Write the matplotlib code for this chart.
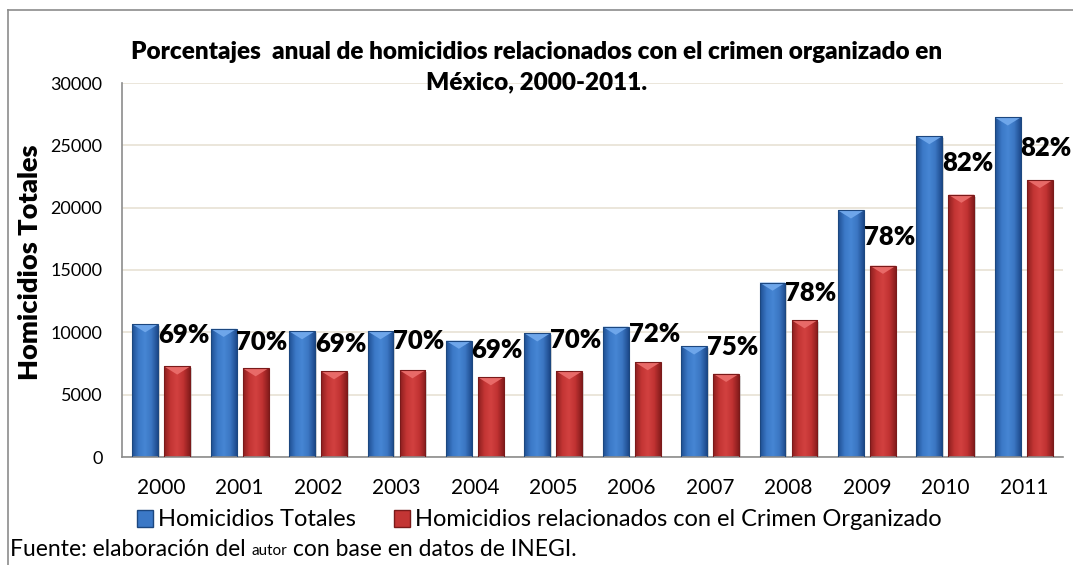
import numpy as np
import matplotlib.pyplot as plt
from matplotlib.colors import LinearSegmentedColormap
from matplotlib.lines import Line2D

# homicidios por año (INEGI)
years = ['2000', '2001', '2002', '2003', '2004', '2005',
         '2006', '2007', '2008', '2009', '2010', '2011']
totales = [10650, 10280, 10090, 10090, 9330, 9920,
           10450, 8870, 13990, 19780, 25740, 27240]
crimen_org = [7260, 7120, 6880, 6960, 6400, 6880,
              7610, 6670, 10970, 15340, 21040, 22220]
porcentajes = ['69%', '70%', '69%', '70%', '69%', '70%',
               '72%', '75%', '78%', '78%', '82%', '82%']
# desplazamiento vertical de cada etiqueta (px bajo la barra azul)
label_dy = [11, 13, 13, 10, 9, 7, 7, 1, 10, 27, 27, 31]

plt.rcParams['font.family'] = ['Lato', 'DejaVu Sans']

blue_cmap = LinearSegmentedColormap.from_list(
    'azul', ['#1f4f92', '#3b78c6', '#4686d4', '#3b76c2', '#1d4a8c'])
red_cmap = LinearSegmentedColormap.from_list(
    'rojo', ['#8c1f1f', '#c33534', '#d24140', '#c03232', '#861c1c'])

fig = plt.figure(figsize=(10.73, 5.65), dpi=100)
ax = fig.add_axes([122 / 1073, 1 - 457 / 565, (1063 - 122) / 1073, 374 / 565])

x = np.arange(len(years))
w = 0.33
off = 0.204


def fancy_bars(xpos, vals, cmap, top_color, edge):
    bars = ax.bar(xpos, vals, width=w, color='none', edgecolor=edge,
                  linewidth=0.8, zorder=3)
    grad = np.linspace(0, 1, 64).reshape(1, -1)
    for b in bars:
        x0, y0 = b.get_x(), b.get_y()
        bw, bh = b.get_width(), b.get_height()
        im = ax.imshow(grad, cmap=cmap, aspect='auto', zorder=2,
                       extent=[x0, x0 + bw, y0, y0 + bh])
        im.set_clip_path(b)
        # bisel claro en la parte superior
        tri = plt.Polygon([[x0, bh], [x0 + bw, bh], [x0 + bw / 2, bh - 650]],
                          closed=True, color=top_color, zorder=2.5, lw=0)
        ax.add_patch(tri)
        # sombra
        sh = plt.Rectangle((x0 + 0.02, 0), bw, bh - 150, color='#b0b0b0',
                           alpha=0.5, zorder=1.5, lw=0)
        ax.add_patch(sh)
    return bars


fancy_bars(x - off, totales, blue_cmap, '#6ea6ea', '#1c477f')
fancy_bars(x + off, crimen_org, red_cmap, '#e86a68', '#7a1a1a')

for i, (t, p) in enumerate(zip(totales, porcentajes)):
    ax.annotate(p, (x[i] - 0.04, t), xytext=(0, -label_dy[i] * 0.72),
                textcoords='offset points', ha='left', va='center',
                fontsize=18.5, fontweight='heavy', color='black', zorder=5)

ax.set_xlim(-0.5, len(years) - 0.5)
ax.set_ylim(0, 30000)
ax.set_yticks(range(0, 30001, 5000))
ax.set_xticks(x)
ax.set_xticklabels(years, fontsize=15)
ax.tick_params(axis='y', labelsize=13, length=0, pad=14)
ax.tick_params(axis='x', length=0, pad=15)
ax.yaxis.grid(True, color='#e8e2d4', linewidth=1.2, zorder=0)
ax.set_axisbelow(True)
for s in ['top', 'right']:
    ax.spines[s].set_visible(False)
for s in ['left', 'bottom']:
    ax.spines[s].set_color('#8c8c8c')
    ax.spines[s].set_linewidth(1.2)

fig.text(30 / 1073, 1 - 262 / 565, 'Homicidios Totales', rotation=90,
         ha='center', va='center', fontsize=19.5, fontweight='heavy')

fig.text(537 / 1073, 1 - 52 / 565,
         'Porcentajes  anual de homicidios relacionados con el crimen organizado en',
         ha='center', va='center', fontsize=17.5, fontweight='heavy')
fig.text(537 / 1073, 1 - 82 / 565, 'México, 2000-2011.',
         ha='center', va='center', fontsize=17.5, fontweight='heavy')

# leyenda
handles = [plt.Rectangle((0, 0), 1, 1, facecolor='#3b78c6', edgecolor='#1c477f'),
           plt.Rectangle((0, 0), 1, 1, facecolor='#c33534', edgecolor='#7a1a1a')]
fig.legend(handles, ['Homicidios Totales',
                     'Homicidios relacionados con el Crimen Organizado'],
           loc='center', bbox_to_anchor=(539 / 1073, 1 - 520 / 565),
           ncol=2, frameon=False, fontsize=17, handlelength=0.7,
           handleheight=0.7, handletextpad=0.2, columnspacing=1.6)

# fuente
t1 = fig.text(10 / 1073, 1 - 550 / 565, 'Fuente: elaboración del ',
              ha='left', va='center', fontsize=16.5)
fig.canvas.draw()
r = fig.canvas.get_renderer()
bb = t1.get_window_extent(r)
t2 = fig.text(bb.x1 / 1073, 1 - 551 / 565, 'autor', ha='left', va='center',
              fontsize=11)
bb2 = t2.get_window_extent(r)
fig.text(bb2.x1 / 1073, 1 - 550 / 565, ' con base en datos de INEGI.',
         ha='left', va='center', fontsize=16.5)

# marco del gráfico
fig.add_artist(Line2D([8 / 1073, 8 / 1073], [0, 1 - 10 / 565],
                      color='#8c8c8c', lw=1.2))
fig.add_artist(Line2D([8 / 1073, 1], [1 - 10 / 565, 1 - 10 / 565],
                      color='#8c8c8c', lw=1.2))

fig.savefig('out.png', dpi=100)
